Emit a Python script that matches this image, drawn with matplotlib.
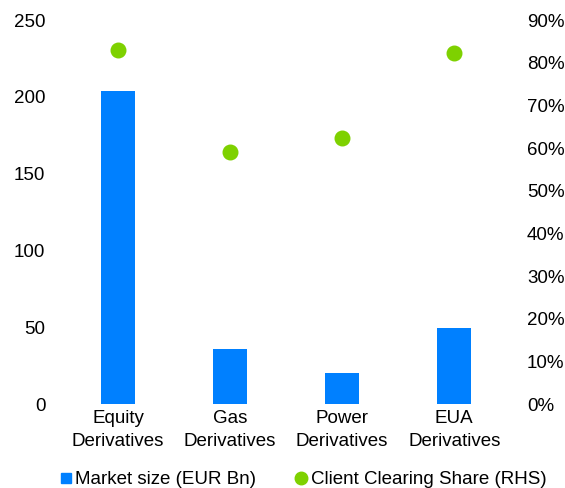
import matplotlib
matplotlib.use('Agg')
import matplotlib.pyplot as plt
from matplotlib.lines import Line2D
import numpy as np

categories = ['Equity\nDerivatives', 'Gas\nDerivatives', 'Power\nDerivatives', 'EUA\nDerivatives']
market_size = [204, 36, 20, 49.5]
clearing_share = [83, 59, 62.3, 82.3]

bar_color = '#0080ff'
dot_color = '#7ed100'

plt.rcParams['font.family'] = ['Liberation Sans', 'DejaVu Sans']
plt.rcParams['font.size'] = 13.5

fig = plt.figure(figsize=(5.65, 4.88), dpi=100)
ax = fig.add_axes([0.11, 0.172, 0.793, 0.787])
ax2 = ax.twinx()

x = np.arange(len(categories))
ax.bar(x, market_size, width=0.3, color=bar_color)
ax2.scatter(x, clearing_share, s=110, color=dot_color, zorder=3)

ax.set_xlim(-0.5, 3.5)
ax.set_ylim(0, 250)
ax.set_yticks(np.arange(0, 251, 50))
ax2.set_ylim(0, 90)
ax2.set_yticks(np.arange(0, 91, 10))
ax2.set_yticklabels([f'{v}%' for v in range(0, 91, 10)])

ax.set_xticks(x)
ax.set_xticklabels(categories, linespacing=1.5)

for a in (ax, ax2):
    for s in a.spines.values():
        s.set_visible(False)
    a.tick_params(length=0, labelsize=13.5)
ax.tick_params(axis='y', pad=12)
ax.tick_params(axis='x', pad=4)
ax2.tick_params(axis='y', pad=12)

handles = [
    Line2D([], [], marker='s', linestyle='none', color=bar_color, markersize=7),
    Line2D([], [], marker='o', linestyle='none', color=dot_color, markersize=9),
]
fig.legend(handles, ['Market size (EUR Bn)', 'Client Clearing Share (RHS)'],
           loc='lower center', bbox_to_anchor=(0.535, -0.035), ncol=2, frameon=False,
           handlelength=0.8, handletextpad=0.1, columnspacing=2.0, fontsize=13.5)

fig.savefig('out.png', dpi=100)
